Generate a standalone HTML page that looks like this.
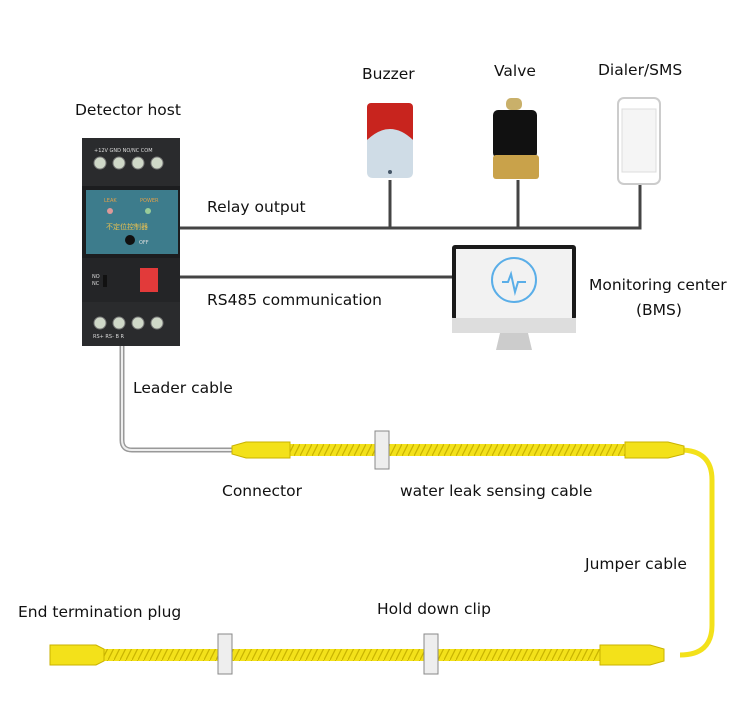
<!DOCTYPE html>
<html><head><meta charset="utf-8"><style>
body{margin:0;background:#fff}
svg text{font-family:"DejaVu Sans","Noto Sans CJK SC",sans-serif;font-size:15.5px;fill:#111}
</style></head><body>
<svg width="750" height="704" viewBox="0 0 750 704" xmlns="http://www.w3.org/2000/svg">
<defs>
<pattern id="tw" width="6" height="12" patternUnits="userSpaceOnUse">
<rect width="6" height="12" fill="#f3e11a"/><path d="M0 12 L6 0" stroke="#c9b400" stroke-width="1.2"/>
</pattern>
</defs>
<g stroke="#444" stroke-width="3" fill="none">
<path d="M180 228 H640 V180"/><path d="M390 180 V228"/><path d="M518 180 V228"/>
<path d="M180 277 H452"/>
</g>
<rect x="82" y="138" width="98" height="208" fill="#2a2b2d"/>
<rect x="82" y="186" width="98" height="72" fill="#1c1d1f"/>
<rect x="86" y="190" width="92" height="64" fill="#3d7c8c"/>
<rect x="82" y="258" width="98" height="44" fill="#242527"/>
<g fill="#cfd8c8" stroke="#777"><circle cx="100" cy="163" r="6"/><circle cx="119" cy="163" r="6"/><circle cx="138" cy="163" r="6"/><circle cx="157" cy="163" r="6"/>
<circle cx="100" cy="323" r="6"/><circle cx="119" cy="323" r="6"/><circle cx="138" cy="323" r="6"/><circle cx="157" cy="323" r="6"/></g>
<text x="94" y="152" style="font-size:5px;fill:#ddd">+12V  GND  NO/NC  COM</text>
<text x="93" y="338" style="font-size:5px;fill:#ddd">RS+   RS-    B     R</text>
<text x="104" y="202" style="font-size:5px;fill:#e0a04a">LEAK</text><text x="140" y="202" style="font-size:5px;fill:#e0a04a">POWER</text>
<text x="106" y="229" style="font-size:7px;fill:#e8c050">不定位控制器</text><text x="139" y="244" style="font-size:5px;fill:#ddd">OFF</text>
<text x="92" y="278" style="font-size:5px;fill:#ddd">NO</text><text x="92" y="285" style="font-size:5px;fill:#ddd">NC</text>
<circle cx="110" cy="211" r="3" fill="#d99"/><circle cx="148" cy="211" r="3" fill="#9c9"/>
<circle cx="130" cy="240" r="5" fill="#111"/>
<rect x="140" y="268" width="18" height="24" fill="#e23a3a"/>
<rect x="103" y="275" width="4" height="12" fill="#111"/>
<rect x="367" y="103" width="46" height="40" rx="4" fill="#c8241e"/>
<path d="M367 140 Q390 118 413 140 V172 Q413 178 407 178 H373 Q367 178 367 172Z" fill="#cfdce6"/>
<circle cx="390" cy="172" r="2" fill="#456"/>
<rect x="506" y="98" width="16" height="12" rx="5" fill="#c9b06a"/>
<rect x="493" y="110" width="44" height="48" rx="5" fill="#111"/>
<rect x="493" y="155" width="46" height="24" rx="3" fill="#c9a24a"/>
<rect x="618" y="98" width="42" height="86" rx="6" fill="#fff" stroke="#ccc" stroke-width="2"/>
<rect x="622" y="109" width="34" height="63" fill="#f5f5f5" stroke="#ddd"/>
<rect x="452" y="245" width="124" height="75" rx="3" fill="#1a1a1a"/>
<rect x="456" y="249" width="116" height="69" fill="#f2f2f2"/>
<rect x="452" y="318" width="124" height="15" fill="#ddd"/>
<path d="M500 333 H528 L532 350 H496Z" fill="#ccc"/>
<circle cx="514" cy="280" r="22" fill="none" stroke="#5aaee8" stroke-width="2"/>
<path d="M502 282 H508 L511 274 L515 292 L518 282 H526" fill="none" stroke="#5aaee8" stroke-width="2"/>
<path d="M122 346 V440 Q122 450 132 450 H232" stroke="#999" stroke-width="5" fill="none"/>
<path d="M122 346 V440 Q122 450 132 450 H232" stroke="#eee" stroke-width="2" fill="none"/>
<path d="M680 450 Q712 450 712 480 V625 Q712 655 680 655" stroke="#f3e11a" stroke-width="5" fill="none"/>
<rect x="290" y="444" width="336" height="12" fill="url(#tw)"/>
<rect x="100" y="649" width="502" height="12" fill="url(#tw)"/>
<g fill="#f3e11a" stroke="#c9b200">
<path d="M232 446 L246 442 H290 V458 H246 L232 454Z"/>
<path d="M625 442 H668 L684 446 V454 L668 458 H625Z"/>
<path d="M50 645 H96 L104 649 V661 L96 665 H50Z"/>
<path d="M600 645 H650 L664 649 V661 L650 665 H600Z"/>
</g>
<g fill="#eee" stroke="#888">
<rect x="375" y="431" width="14" height="38"/><rect x="218" y="634" width="14" height="40"/><rect x="424" y="634" width="14" height="40"/>
</g>
<text x="75" y="115">Detector host</text>
<text x="362" y="79">Buzzer</text>
<text x="494" y="76">Valve</text>
<text x="598" y="75">Dialer/SMS</text>
<text x="207" y="212">Relay output</text>
<text x="207" y="305">RS485 communication</text>
<text x="589" y="290">Monitoring center</text>
<text x="636" y="315">(BMS)</text>
<text x="133" y="393">Leader cable</text>
<text x="222" y="496">Connector</text>
<text x="400" y="496">water leak sensing cable</text>
<text x="585" y="569">Jumper cable</text>
<text x="18" y="617">End termination plug</text>
<text x="377" y="614">Hold down clip</text>
</svg>
</body></html>
